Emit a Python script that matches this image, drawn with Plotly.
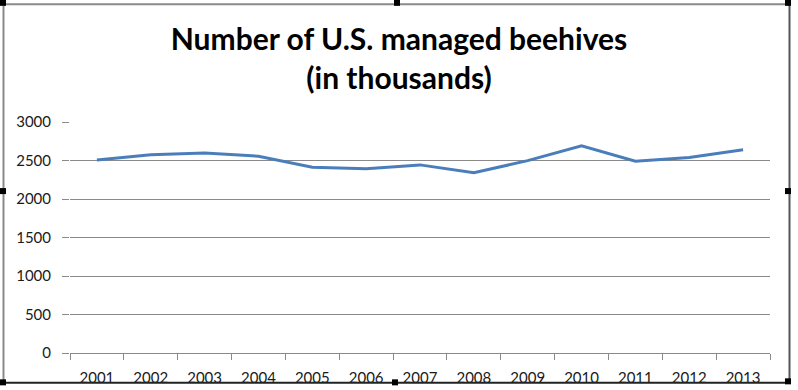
import plotly.graph_objects as go

years = ["2001", "2002", "2003", "2004", "2005", "2006", "2007",
         "2008", "2009", "2010", "2011", "2012", "2013"]
hives = [2506, 2574, 2599, 2556, 2413, 2394, 2443, 2342, 2498, 2692, 2491, 2539, 2640]
y_ticks = [0, 500, 1000, 1500, 2000, 2500, 3000]

W, H = 798, 390
L, R, T, B = 70, 28, 122, 37.3
pw, ph = W - L - R, H - T - B


def px(x):
    return (x - L) / pw


def py(y):
    return (H - B - y) / ph


fig = go.Figure()
fig.add_trace(go.Scatter(
    x=years, y=hives, mode="lines",
    line=dict(color="#4A7EBB", width=3),
    hoverinfo="x+y", showlegend=False,
))

shapes = []
# chart border
shapes.append(dict(type="line", xref="paper", yref="paper", x0=px(3.5), x1=px(3.5), y0=py(4.5), y1=py(383),
                   line=dict(color="#8A8A8A", width=2)))
shapes.append(dict(type="line", xref="paper", yref="paper", x0=px(3.5), x1=px(789.5), y0=py(4.5), y1=py(4.5),
                   line=dict(color="#8A8A8A", width=2)))
shapes.append(dict(type="line", xref="paper", yref="paper", x0=px(789.5), x1=px(789.5), y0=py(4.5), y1=py(383),
                   line=dict(color="#555555", width=2)))
shapes.append(dict(type="line", xref="paper", yref="paper", x0=px(3.5), x1=px(789.5), y0=py(382.5), y1=py(382.5),
                   line=dict(color="#222222", width=2)))
# selection handles
handles = [(0, 0), (394, 0), (785, 0), (0, 188), (785, 188), (0, 379), (392, 379), (785, 378)]
for hx, hy in handles:
    shapes.append(dict(type="rect", xref="paper", yref="paper",
                       x0=px(hx), x1=px(hx + 6), y0=py(hy), y1=py(hy + 6),
                       fillcolor="#000000", line=dict(width=0)))

fig.update_layout(
    width=W, height=H,
    margin=dict(l=L, r=R, t=T, b=B, pad=0),
    paper_bgcolor="white", plot_bgcolor="white",
    title=dict(
        text="Number of U.S. managed beehives<br>(in thousands)",
        font=dict(family="Lato", size=30, color="#000000", weight="bold"),
        x=0.5, xref="container", xanchor="center",
        y=1 - 50 / H, yref="container", yanchor="middle",
    ),
    font=dict(family="Lato", size=15, color="#1A1A1A"),
    xaxis=dict(
        type="category", tickmode="array", tickvals=years, ticktext=years,
        range=[-0.5, len(years) - 0.5],
        showgrid=False, showline=True, linecolor="#8A8A8A", linewidth=1,
        ticks="outside", tickson="boundaries", ticklen=6, tickcolor="#8A8A8A",
        ticklabelstandoff=11, zeroline=False, fixedrange=True, automargin=False,
    ),
    yaxis=dict(
        range=[0, 3000], tickvals=y_ticks, ticktext=[str(v) for v in y_ticks],
        showgrid=True, gridcolor="#8A8A8A", gridwidth=1,
        showline=False, zeroline=False,
        ticks="outside", ticklen=7, tickcolor="#8A8A8A",
        ticklabelstandoff=8, fixedrange=True, automargin=False,
    ),
    shapes=shapes,
)

fig.write_html("out.html", config={"displayModeBar": False},
               post_script="document.body.style.margin='0';document.body.style.overflow='hidden';")
